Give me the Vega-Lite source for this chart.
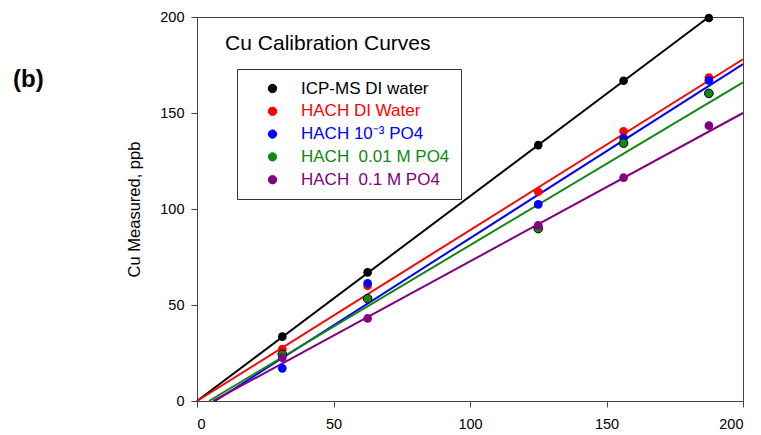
{
  "$schema": "https://vega.github.io/schema/vega-lite/v6.json",
  "width": 546,
  "height": 384,
  "autosize": {"type": "none"},
  "padding": {"left": 197, "top": 17, "right": 18, "bottom": 34},
  "background": "white",
  "title": {
    "text": "(b)",
    "fontSize": 24,
    "fontWeight": "bold",
    "font": "Liberation Sans",
    "color": "black",
    "anchor": "start",
    "frame": "group",
    "orient": "top",
    "offset": 0,
    "dx": -184,
    "dy": 83
  },
  "datasets": {
    "pts": [
      {"series": "ICP-MS DI water", "x": 31.25, "y": 33.5},
      {"series": "ICP-MS DI water", "x": 62.5, "y": 67},
      {"series": "ICP-MS DI water", "x": 125, "y": 133.3},
      {"series": "ICP-MS DI water", "x": 156.25, "y": 166.8},
      {"series": "ICP-MS DI water", "x": 187.5, "y": 199.5},
      {"series": "HACH DI Water", "x": 31.25, "y": 27},
      {"series": "HACH DI Water", "x": 62.5, "y": 60},
      {"series": "HACH DI Water", "x": 125, "y": 109},
      {"series": "HACH DI Water", "x": 156.25, "y": 140.5},
      {"series": "HACH DI Water", "x": 187.5, "y": 168.5},
      {"series": "HACH 10⁻³ PO4", "x": 31.25, "y": 17},
      {"series": "HACH 10⁻³ PO4", "x": 62.5, "y": 61.3},
      {"series": "HACH 10⁻³ PO4", "x": 125, "y": 102.4},
      {"series": "HACH 10⁻³ PO4", "x": 156.25, "y": 137},
      {"series": "HACH 10⁻³ PO4", "x": 187.5, "y": 167},
      {"series": "HACH  0.01 M PO4", "x": 31.25, "y": 24.3},
      {"series": "HACH  0.01 M PO4", "x": 62.5, "y": 53.3},
      {"series": "HACH  0.01 M PO4", "x": 125, "y": 89.8},
      {"series": "HACH  0.01 M PO4", "x": 156.25, "y": 134.3},
      {"series": "HACH  0.01 M PO4", "x": 187.5, "y": 160.2},
      {"series": "HACH  0.1 M PO4", "x": 31.25, "y": 22.5},
      {"series": "HACH  0.1 M PO4", "x": 62.5, "y": 43},
      {"series": "HACH  0.1 M PO4", "x": 125, "y": 91.5},
      {"series": "HACH  0.1 M PO4", "x": 156.25, "y": 116.3},
      {"series": "HACH  0.1 M PO4", "x": 187.5, "y": 143.4}
    ],
    "fits": [
      {"series": "ICP-MS DI water", "x": 0, "y": 0},
      {"series": "ICP-MS DI water", "x": 187.5, "y": 200},
      {"series": "HACH DI Water", "x": 0, "y": 0},
      {"series": "HACH DI Water", "x": 200, "y": 178},
      {"series": "HACH 10⁻³ PO4", "x": 6.6, "y": 0},
      {"series": "HACH 10⁻³ PO4", "x": 200, "y": 175.5},
      {"series": "HACH  0.01 M PO4", "x": 4.4, "y": 0},
      {"series": "HACH  0.01 M PO4", "x": 200, "y": 166},
      {"series": "HACH  0.1 M PO4", "x": 5.9, "y": 0},
      {"series": "HACH  0.1 M PO4", "x": 200, "y": 150}
    ]
  },
  "config": {
    "view": {"stroke": "#444", "strokeWidth": 1},
    "axis": {
      "grid": false,
      "domainColor": "#444",
      "tickColor": "#444",
      "tickSize": 6,
      "labelFont": "Liberation Sans",
      "labelFontSize": 14.5,
      "labelColor": "black",
      "titleFont": "Liberation Sans",
      "titleFontWeight": "normal",
      "titleColor": "black"
    }
  },
  "layer": [
    {
      "data": {"name": "fits"},
      "mark": {"type": "line", "strokeWidth": 2},
      "encoding": {
        "x": {"field": "x", "type": "quantitative", "scale": {"domain": [0, 200], "nice": false},
              "axis": {"values": [0, 50, 100, 150, 200], "title": null, "labelPadding": 10}},
        "y": {"field": "y", "type": "quantitative", "scale": {"domain": [0, 200], "nice": false},
              "axis": {"values": [0, 50, 100, 150, 200], "title": "Cu Measured, ppb", "titleFontSize": 16.5, "titlePadding": 17, "labelPadding": 7}},
        "color": {"field": "series", "type": "nominal",
                  "scale": {"domain": ["ICP-MS DI water", "HACH DI Water", "HACH 10⁻³ PO4", "HACH  0.01 M PO4", "HACH  0.1 M PO4"],
                            "range": ["#000000", "#ff0000", "#0000ff", "#118811", "#800080"]}},
        "order": {"field": "x"}
      }
    },
    {
      "data": {"name": "pts"},
      "mark": {"type": "point", "filled": true, "shape": "circle", "size": 75, "opacity": 1},
      "encoding": {
        "x": {"field": "x", "type": "quantitative"},
        "y": {"field": "y", "type": "quantitative"},
        "color": {"field": "series", "type": "nominal",
                  "legend": {
                    "title": null,
                    "orient": "none",
                    "legendX": 40,
                    "legendY": 52,
                    "strokeColor": "#333",
                    "padding": 11,
                    "symbolType": "circle",
                    "symbolSize": 70,
                    "symbolStrokeWidth": 1,
                    "symbolStrokeColor": {"expr": "datum.value === 'HACH  0.01 M PO4' ? '#000000' : null"},
                    "symbolOpacity": 1,
                    "symbolOffset": 16,
                    "labelOffset": 20,
                    "labelFont": "Liberation Sans",
                    "labelFontSize": 17,
                    "labelLimit": 300,
                    "rowPadding": 4.8,
                    "labelExpr": "replace(datum.label, '  ', ' \u00a0')",
                    "labelColor": {"expr": "datum.value === 'HACH DI Water' ? '#ff0000' : datum.value === 'HACH 10⁻³ PO4' ? '#0000ff' : datum.value === 'HACH  0.01 M PO4' ? '#118811' : datum.value === 'HACH  0.1 M PO4' ? '#800080' : '#000000'"}
                  }},
        "stroke": {"condition": {"test": "datum.series === 'HACH  0.01 M PO4'", "value": "#000000"}, "value": null},
        "strokeWidth": {"value": 1}
      }
    },
    {
      "data": {"values": [{}]},
      "mark": {"type": "text", "align": "left", "baseline": "alphabetic", "fontSize": 21, "font": "Liberation Sans", "color": "black"},
      "encoding": {
        "x": {"datum": 10.3, "type": "quantitative"},
        "y": {"datum": 183, "type": "quantitative"},
        "text": {"value": "Cu Calibration Curves"}
      }
    }
  ]
}
